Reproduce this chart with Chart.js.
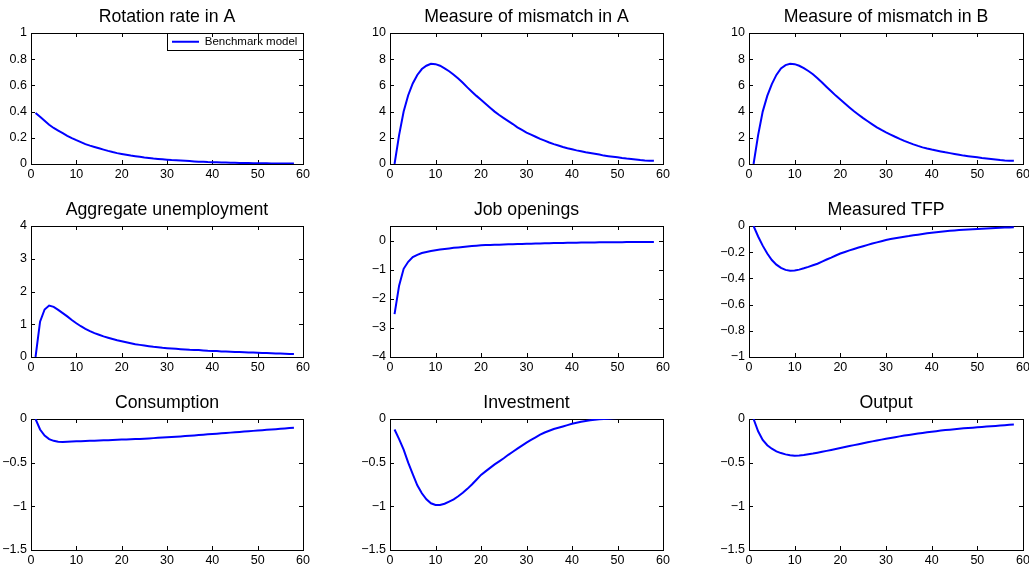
<!DOCTYPE html>
<html>
<head>
<meta charset="utf-8">
<script src="https://cdn.jsdelivr.net/npm/chart.js@4.4.1/dist/chart.umd.min.js"></script>
<style>
  html, body { margin: 0; padding: 0; background: #fff; }
  #page { position: relative; width: 1029px; height: 567px; overflow: hidden; }
  #page canvas { position: absolute; }
</style>
</head>
<body>
<div id="page"></div>
<script>
// periods after the shock
const periods = [1, 2, 3, 4, 5, 6, 7, 8, 9, 10, 11, 12, 13, 14, 15, 16, 17, 18, 19, 20,
  21, 22, 23, 24, 25, 26, 27, 28, 29, 30, 31, 32, 33, 34, 35, 36, 37, 38, 39, 40,
  41, 42, 43, 44, 45, 46, 47, 48, 49, 50, 51, 52, 53, 54, 55, 56, 57, 58];

const rotationRateA = [0.39, 0.36, 0.33, 0.30, 0.275, 0.255, 0.235, 0.215, 0.198, 0.182,
  0.167, 0.152, 0.140, 0.130, 0.120, 0.110, 0.100, 0.091, 0.083, 0.077,
  0.071, 0.065, 0.060, 0.055, 0.050, 0.046, 0.042, 0.039, 0.036, 0.033,
  0.030, 0.028, 0.026, 0.024, 0.022, 0.020, 0.018, 0.017, 0.015, 0.014,
  0.013, 0.012, 0.011, 0.010, 0.009, 0.008, 0.008, 0.007, 0.006, 0.006,
  0.005, 0.005, 0.004, 0.004, 0.004, 0.003, 0.003, 0.003];

const mismatchA = [0, 2.2, 4.0, 5.25, 6.15, 6.8, 7.25, 7.5, 7.65, 7.62,
  7.5, 7.3, 7.08, 6.82, 6.52, 6.2, 5.85, 5.52, 5.2, 4.9,
  4.6, 4.3, 4.0, 3.74, 3.5, 3.27, 3.05, 2.8, 2.6, 2.4,
  2.24, 2.08, 1.92, 1.78, 1.64, 1.52, 1.41, 1.3, 1.2, 1.12,
  1.04, 0.97, 0.9, 0.84, 0.78, 0.72, 0.64, 0.6, 0.56, 0.51,
  0.46, 0.42, 0.39, 0.35, 0.3, 0.27, 0.25, 0.24];

const mismatchB = [0, 2.2, 4.0, 5.2, 6.1, 6.8, 7.3, 7.55, 7.65, 7.62,
  7.5, 7.32, 7.1, 6.85, 6.55, 6.22, 5.88, 5.55, 5.22, 4.92,
  4.62, 4.32, 4.03, 3.76, 3.5, 3.26, 3.03, 2.8, 2.6, 2.42,
  2.25, 2.08, 1.92, 1.77, 1.63, 1.5, 1.38, 1.27, 1.18, 1.1,
  1.03, 0.96, 0.89, 0.83, 0.77, 0.71, 0.64, 0.6, 0.56, 0.51,
  0.46, 0.42, 0.38, 0.34, 0.3, 0.27, 0.25, 0.24];

const unemployment = [0, 1.08, 1.45, 1.57, 1.53, 1.44, 1.34, 1.24, 1.13, 1.03,
  0.94, 0.86, 0.79, 0.73, 0.68, 0.63, 0.59, 0.55, 0.51, 0.48,
  0.45, 0.42, 0.39, 0.37, 0.35, 0.33, 0.31, 0.3, 0.28, 0.27,
  0.26, 0.25, 0.24, 0.23, 0.22, 0.215, 0.21, 0.2, 0.19, 0.185,
  0.18, 0.17, 0.165, 0.16, 0.155, 0.15, 0.145, 0.14, 0.135, 0.13,
  0.125, 0.12, 0.115, 0.11, 0.105, 0.1, 0.095, 0.09];

const jobOpenings = [-2.53, -1.55, -0.97, -0.73, -0.57, -0.49, -0.43, -0.39, -0.36, -0.33,
  -0.31, -0.29, -0.27, -0.25, -0.235, -0.22, -0.205, -0.19, -0.175, -0.16,
  -0.155, -0.15, -0.145, -0.14, -0.135, -0.13, -0.125, -0.12, -0.115, -0.11,
  -0.106, -0.102, -0.098, -0.094, -0.09, -0.087, -0.084, -0.081, -0.078, -0.075,
  -0.072, -0.07, -0.068, -0.066, -0.064, -0.062, -0.06, -0.058, -0.056, -0.055,
  -0.054, -0.053, -0.052, -0.051, -0.05, -0.05, -0.05, -0.05];

const measuredTFP = [0, -0.08, -0.15, -0.21, -0.26, -0.295, -0.32, -0.335, -0.342, -0.34,
  -0.333, -0.323, -0.312, -0.3, -0.288, -0.272, -0.256, -0.241, -0.225, -0.21,
  -0.198, -0.186, -0.175, -0.164, -0.154, -0.144, -0.134, -0.125, -0.116, -0.107,
  -0.1, -0.093, -0.087, -0.082, -0.077, -0.071, -0.066, -0.061, -0.056, -0.051,
  -0.047, -0.043, -0.04, -0.037, -0.034, -0.031, -0.029, -0.027, -0.025, -0.023,
  -0.021, -0.019, -0.017, -0.015, -0.013, -0.012, -0.011, -0.01];

const consumption = [0, -0.12, -0.19, -0.23, -0.25, -0.26, -0.262, -0.26, -0.258, -0.256,
  -0.254, -0.252, -0.25, -0.248, -0.246, -0.244, -0.242, -0.24, -0.238, -0.236,
  -0.234, -0.232, -0.23, -0.228, -0.225, -0.222, -0.219, -0.216, -0.213, -0.21,
  -0.207, -0.203, -0.2, -0.196, -0.192, -0.188, -0.184, -0.18, -0.176, -0.172,
  -0.168, -0.164, -0.16, -0.156, -0.152, -0.148, -0.144, -0.14, -0.136, -0.132,
  -0.128, -0.124, -0.12, -0.116, -0.112, -0.108, -0.104, -0.1];

const investment = [-0.12, -0.23, -0.35, -0.5, -0.63, -0.76, -0.85, -0.92, -0.965, -0.985,
  -0.985, -0.97, -0.945, -0.92, -0.885, -0.845, -0.8, -0.75, -0.695, -0.64,
  -0.6, -0.56, -0.52, -0.485, -0.45, -0.41, -0.375, -0.34, -0.305, -0.27,
  -0.24, -0.21, -0.18, -0.155, -0.135, -0.115, -0.1, -0.085, -0.07, -0.055,
  -0.043, -0.032, -0.022, -0.014, -0.008, -0.003, 0.0, 0.004, 0.008, 0.011,
  0.014, 0.016, 0.018, 0.019, 0.02, 0.021, 0.021, 0.022];

const output = [0, -0.14, -0.24, -0.3, -0.34, -0.37, -0.39, -0.405, -0.415, -0.42,
  -0.418, -0.412, -0.404, -0.396, -0.386, -0.376, -0.365, -0.354, -0.343, -0.332,
  -0.321, -0.31, -0.299, -0.288, -0.277, -0.266, -0.256, -0.246, -0.236, -0.226,
  -0.217, -0.208, -0.199, -0.19, -0.182, -0.174, -0.166, -0.159, -0.152, -0.145,
  -0.139, -0.133, -0.127, -0.122, -0.117, -0.112, -0.107, -0.103, -0.099, -0.095,
  -0.091, -0.087, -0.083, -0.079, -0.075, -0.071, -0.067, -0.063];

// tick labels
const xTicks = [0, 10, 20, 30, 40, 50, 60];
const rotationTicks = [0, 0.2, 0.4, 0.6, 0.8, 1];
const mismatchTicks = [0, 2, 4, 6, 8, 10];
const unemploymentTicks = [0, 1, 2, 3, 4];
const openingsTicks = [-4, -3, -2, -1, 0];
const tfpTicks = [-1, -0.8, -0.6, -0.4, -0.2, 0];
const demandTicks = [-1.5, -1, -0.5, 0];

const panels = [
  { title: 'Rotation rate in A', values: rotationRateA, ticks: rotationTicks, min: 0, max: 1, legend: true },
  { title: 'Measure of mismatch in A', values: mismatchA, ticks: mismatchTicks, min: 0, max: 10 },
  { title: 'Measure of mismatch in B', values: mismatchB, ticks: mismatchTicks, min: 0, max: 10 },
  { title: 'Aggregate unemployment', values: unemployment, ticks: unemploymentTicks, min: 0, max: 4 },
  { title: 'Job openings', values: jobOpenings, ticks: openingsTicks, min: -4, max: 0.5 },
  { title: 'Measured TFP', values: measuredTFP, ticks: tfpTicks, min: -1, max: 0 },
  { title: 'Consumption', values: consumption, ticks: demandTicks, min: -1.5, max: 0 },
  { title: 'Investment', values: investment, ticks: demandTicks, min: -1.5, max: 0 },
  { title: 'Output', values: output, ticks: demandTicks, min: -1.5, max: 0 }
];

// plot-box edges on the page
const colLeft = [31, 390, 749];
const colRight = [303, 663, 1023];
const rowTop = [33, 226, 419];
const rowBottom = [164, 357, 550];
const AXIS_W = 31, TITLE_H = 30, XAXIS_H = 20, PAD_R = 10;

Chart.defaults.font.family = '"Liberation Sans", Arial, Helvetica, sans-serif';
Chart.defaults.color = '#000';

function fmt(v) {
  return v < 0 ? '\u2212' + String(-v) : String(v);
}

// matlab style box with inward ticks on all four sides
const matlabBox = {
  id: 'matlabBox',
  beforeDatasetsDraw(chart) {
    const { ctx, chartArea: a, scales: { x, y } } = chart;
    const len = 4;
    ctx.save();
    ctx.strokeStyle = '#000';
    ctx.lineWidth = 1;
    ctx.beginPath();
    x.ticks.forEach(t => {
      const px = Math.round(x.getPixelForValue(t.value)) + 0.5;
      ctx.moveTo(px, a.bottom); ctx.lineTo(px, a.bottom - len);
      ctx.moveTo(px, a.top); ctx.lineTo(px, a.top + len);
    });
    y.ticks.forEach(t => {
      const py = Math.round(y.getPixelForValue(t.value)) + 0.5;
      ctx.moveTo(a.left, py); ctx.lineTo(a.left + len, py);
      ctx.moveTo(a.right, py); ctx.lineTo(a.right - len, py);
    });
    ctx.stroke();
    ctx.strokeRect(Math.round(a.left) + 0.5, Math.round(a.top) + 0.5,
      Math.round(a.right - a.left), Math.round(a.bottom - a.top));
    ctx.restore();
  }
};

// put the legend in the top right corner of the axes and frame it
const legendFrame = {
  id: 'legendFrame',
  afterLayout(chart) {
    const lg = chart.legend;
    if (!lg || !lg.options.display) return;
    const a = chart.chartArea;
    lg.left = a.right - 134;
    lg.right = lg.left + lg.width;
    lg.top = a.top;
    lg.bottom = a.bottom;
  },
  afterDraw(chart) {
    const lg = chart.legend;
    if (!lg || !lg.options.display || !lg.legendHitBoxes.length) return;
    const { ctx, chartArea: a } = chart;
    const hb = lg.legendHitBoxes[0];
    const x0 = Math.round(hb.left - 5) + 0.5;
    const y0 = Math.round(a.top) + 0.5;
    ctx.save();
    ctx.strokeStyle = '#000';
    ctx.lineWidth = 1;
    ctx.strokeRect(x0, y0, Math.round(a.right) + 0.5 - x0, Math.round(hb.height + 5));
    ctx.restore();
  }
};

const page = document.getElementById('page');

panels.forEach((p, i) => {
  const col = i % 3, row = Math.floor(i / 3);
  const canvas = document.createElement('canvas');
  const w = colRight[col] - colLeft[col] + AXIS_W + PAD_R;
  const h = rowBottom[row] - rowTop[row] + TITLE_H + XAXIS_H;
  canvas.width = w;
  canvas.height = h;
  canvas.style.left = (colLeft[col] - AXIS_W) + 'px';
  canvas.style.top = (rowTop[row] - TITLE_H) + 'px';
  canvas.style.width = w + 'px';
  canvas.style.height = h + 'px';
  page.appendChild(canvas);

  new Chart(canvas, {
    type: 'line',
    data: {
      datasets: [{
        label: 'Benchmark model',
        data: periods.map((t, k) => ({ x: t, y: p.values[k] })),
        borderColor: '#0000ff',
        backgroundColor: '#0000ff',
        borderWidth: 2,
        pointRadius: 0,
        tension: 0,
        fill: false
      }]
    },
    options: {
      responsive: false,
      animation: false,
      events: [],
      layout: { padding: { left: 0, right: PAD_R, top: 0, bottom: 0 } },
      scales: {
        x: {
          type: 'linear', min: 0, max: 60,
          grid: { display: false, drawTicks: false }, border: { display: false },
          afterBuildTicks: s => { s.ticks = xTicks.map(v => ({ value: v })); },
          afterFit: s => { s.height = XAXIS_H; },
          ticks: { font: { size: 12.5 }, padding: 3, maxRotation: 0, autoSkip: false, callback: fmt }
        },
        y: {
          type: 'linear', min: p.min, max: p.max,
          grid: { display: false, drawTicks: false }, border: { display: false },
          afterBuildTicks: s => { s.ticks = p.ticks.map(v => ({ value: v })); },
          afterFit: s => { s.width = AXIS_W; },
          ticks: { font: { size: 12.5 }, padding: 4, autoSkip: false, callback: fmt }
        }
      },
      plugins: {
        title: {
          display: true, text: p.title, color: '#000', fullSize: false,
          font: { size: 17.7, weight: 'normal', lineHeight: '22px' },
          padding: { top: 3, bottom: 5 }
        },
        legend: {
          display: !!p.legend,
          position: 'chartArea',
          align: 'start',
          labels: {
            usePointStyle: true, pointStyle: 'line', pointStyleWidth: 27,
            font: { size: 11.5 }, color: '#000', padding: 3
          }
        },
        tooltip: { enabled: false }
      }
    },
    plugins: [matlabBox, legendFrame]
  });
});
</script>
</body>
</html>
